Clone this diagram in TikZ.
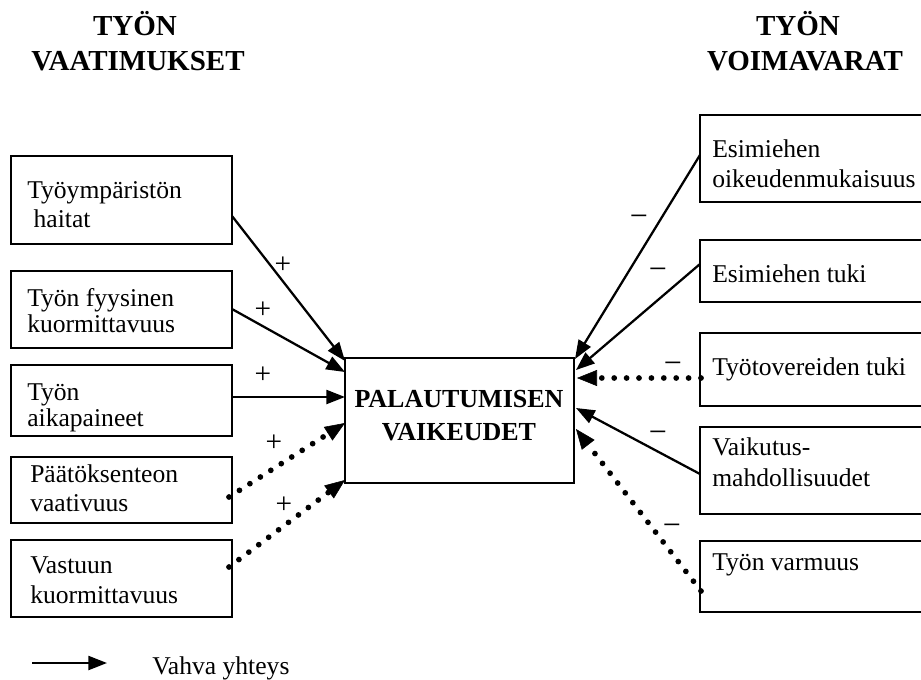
\documentclass[tikz,border=0pt]{standalone}
\usepackage{fontspec}
\setmainfont{Liberation Serif}
\usetikzlibrary{arrows.meta}
\newcommand\boxlines[3]{\parbox[t]{300pt}{\raggedright\fontsize{19.2pt}{#1}\selectfont #2\\#3}}
\begin{document}
\begin{tikzpicture}[x=0.75pt,y=-0.75pt,
  box/.style={draw, line width=1.5pt, inner sep=0pt},
  lbl/.style={inner sep=0pt, anchor=base west, font=\fontsize{19.2pt}{23pt}\selectfont},
  hdr/.style={inner sep=0pt, anchor=base, font=\fontsize{21.75pt}{26pt}\selectfont\bfseries},
  sgn/.style={inner sep=0pt, font=\fontsize{22pt}{26pt}\selectfont},
  msgn/.style={inner sep=0pt, font=\fontsize{24pt}{28pt}\selectfont},
  solidarr/.style={line width=1.7pt, -{Triangle[length=14pt,width=10.5pt]}},
  dotarr/.style={line width=4.3pt, line cap=round, dash pattern=on 0pt off 9.3pt,
    -{Triangle[length=15pt,width=12pt,line width=0.4pt]}},
]
\useasboundingbox (0,0) rectangle (921,679);

% headers
\node[hdr] (h1a) at (135,35) {TYÖN};
\node[hdr] (h1b) at (138,70) {VAATIMUKSET};
\node[hdr] (h2a) at (798,35) {TYÖN};
\node[hdr] (h2b) at (805,70) {VOIMAVARAT};

% left boxes
\node[box, minimum width=221*0.75pt, minimum height=88*0.75pt] (l1) at (121.5,200) {};
\node[box, minimum width=221*0.75pt, minimum height=77*0.75pt] (l2) at (121.5,309.5) {};
\node[box, minimum width=221*0.75pt, minimum height=71*0.75pt] (l3) at (121.5,400.5) {};
\node[box, minimum width=221*0.75pt, minimum height=66*0.75pt] (l4) at (121.5,490) {};
\node[box, minimum width=221*0.75pt, minimum height=77*0.75pt] (l5) at (121.5,578.5) {};

\node[lbl] (l1t) at (27,198) {\boxlines{21.75pt}{Työympäristön}{\ haitat}};
\node[lbl] (l2t) at (27,306) {\boxlines{19.5pt}{Työn fyysinen}{kuormittavuus}};
\node[lbl] (l3t) at (27,400) {\boxlines{19.5pt}{Työn}{aikapaineet}};
\node[lbl] (l4t) at (30,482) {\boxlines{21.75pt}{Päätöksenteon}{vaativuus}};
\node[lbl] (l5t) at (30,573) {\boxlines{22.5pt}{Vastuun}{kuormittavuus}};

% center box
\node[box, minimum width=229*0.75pt, minimum height=125*0.75pt] (c) at (459.5,420.5) {};
\node[inner sep=0pt, anchor=base] (ct) at (459,407)
  {\parbox[t]{230pt}{\centering\fontsize{19.5pt}{24.75pt}\selectfont\bfseries PALAUTUMISEN\\VAIKEUDET}};

% right boxes (cut off by the right edge)
\node[box, minimum width=260*0.75pt, minimum height=87*0.75pt] (r1) at (830,158.5) {};
\node[box, minimum width=260*0.75pt, minimum height=62*0.75pt] (r2) at (830,271) {};
\node[box, minimum width=260*0.75pt, minimum height=73*0.75pt] (r3) at (830,369.5) {};
\node[box, minimum width=260*0.75pt, minimum height=87*0.75pt] (r4) at (830,470.5) {};
\node[box, minimum width=260*0.75pt, minimum height=71*0.75pt] (r5) at (830,576.5) {};

\node[lbl] (r1t) at (712,157) {\boxlines{22.5pt}{Esimiehen}{oikeudenmukaisuus}};
\node[lbl] (r2t) at (712,282) {Esimiehen tuki};
\node[lbl] (r3t) at (712,375) {Työtovereiden tuki};
\node[lbl] (r4t) at (712,455) {\boxlines{23.25pt}{Vaikutus-}{mahdollisuudet}};
\node[lbl] (r5t) at (712,570) {Työn varmuus};

% connector end points
\coordinate (s1) at (232,216);  \coordinate (t1) at (345,361);
\coordinate (s2) at (232,309);  \coordinate (t2) at (345,372);
\coordinate (s3) at (232,397);  \coordinate (t3) at (345,397);
\coordinate (s4) at (229,497);  \coordinate (t4) at (345,423);
\coordinate (s5) at (229,567);  \coordinate (t5) at (345,480);

\coordinate (u1) at (700,155);  \coordinate (v1) at (575,359);
\coordinate (u2) at (700,264);  \coordinate (v2) at (576,370);
\coordinate (u3) at (701,378);  \coordinate (v3) at (577,378);
\coordinate (u4) at (700,474);  \coordinate (v4) at (576,408);
\coordinate (u5) at (701,591);  \coordinate (v5) at (576,429);

\draw[solidarr] (s1) -- (t1);
\draw[solidarr] (s2) -- (t2);
\draw[solidarr] (s3) -- (t3);
\draw[dotarr] (s4) -- (t4);
\draw[dotarr] (s5) -- (t5);

\draw[solidarr] (u1) -- (v1);
\draw[solidarr] (u2) -- (v2);
\draw[dotarr] (u3) -- (v3);
\draw[solidarr] (u4) -- (v4);
\draw[dotarr] (u5) -- (v5);

% signs
\node[sgn] (p1) at (283,265) {+};
\node[sgn] (p2) at (263,310) {+};
\node[sgn] (p3) at (263,375) {+};
\node[sgn] (p4) at (274,443) {+};
\node[sgn] (p5) at (284,505) {+};

\node[msgn] (m1) at (639,221) {−};
\node[msgn] (m2) at (658,274) {−};
\node[msgn] (m3) at (673,368) {−};
\node[msgn] (m4) at (658,437) {−};
\node[msgn] (m5) at (672,530) {−};

% legend
\coordinate (lg1) at (32,663);
\coordinate (lg2) at (107,663);
\draw[solidarr] (lg1) -- (lg2);
\node[lbl] (lgt) at (152,674) {Vahva yhteys};
\end{tikzpicture}
\end{document}
